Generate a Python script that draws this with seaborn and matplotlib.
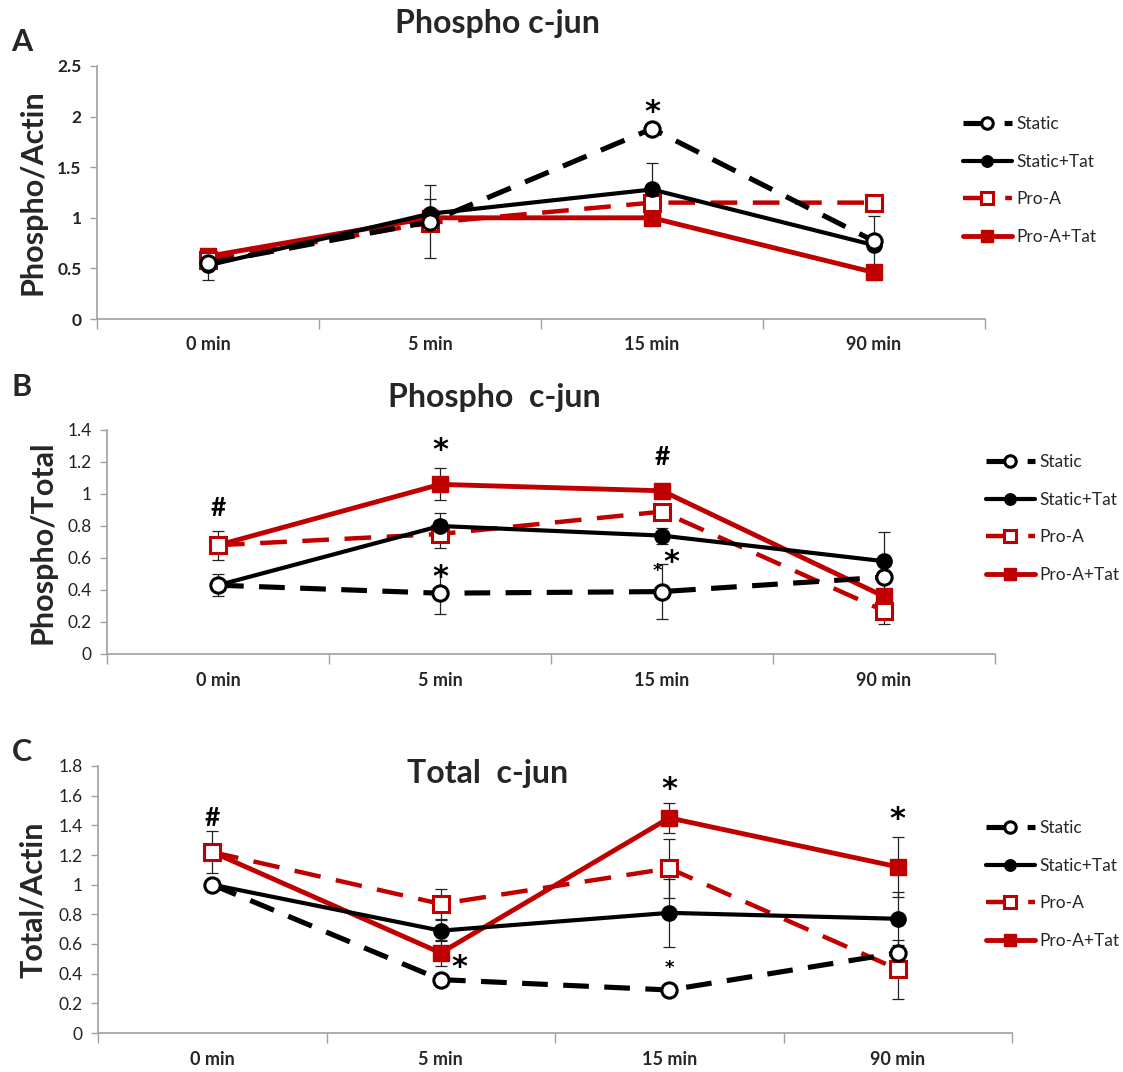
"""Phospho / total c-jun time course, three stacked panels"""
import numpy as np
import pandas as pd
import seaborn as sns
from matplotlib import pyplot as plt

sns.set_theme(style="white")
plt.rcParams["font.family"] = ["Lato", "DejaVu Sans"]

times = ["0 min", "5 min", "15 min", "90 min"]
groups = ["Static", "Static+Tat", "Pro-A", "Pro-A+Tat"]

# panel A: Phospho/Actin
a_static = [0.55, 0.96, 1.88, 0.77]
a_static_tat = [0.53, 1.04, 1.28, 0.73]
a_proa = [0.58, 0.95, 1.15, 1.15]
a_proa_tat = [0.62, 1.00, 1.00, 0.46]
a_err_static = [np.nan, 0.36, np.nan, 0.25]
a_err_static_tat = [0.14, 0.15, 0.26, np.nan]
a_err_proa = [np.nan, np.nan, np.nan, np.nan]
a_err_proa_tat = [np.nan, np.nan, np.nan, np.nan]

# panel B: Phospho/Total
b_static = [0.43, 0.38, 0.39, 0.48]
b_static_tat = [0.43, 0.80, 0.74, 0.58]
b_proa = [0.68, 0.75, 0.89, 0.27]
b_proa_tat = [0.68, 1.06, 1.02, 0.36]
b_err_static = [np.nan, 0.13, 0.17, np.nan]
b_err_static_tat = [0.07, 0.08, 0.05, 0.18]
b_err_proa = [np.nan, 0.09, np.nan, 0.08]
b_err_proa_tat = [0.09, 0.10, np.nan, np.nan]

# panel C: Total/Actin
c_static = [1.00, 0.36, 0.29, 0.54]
c_static_tat = [1.00, 0.69, 0.81, 0.77]
c_proa = [1.22, 0.87, 1.11, 0.43]
c_proa_tat = [1.22, 0.54, 1.45, 1.12]
c_err_static = [np.nan, np.nan, np.nan, np.nan]
c_err_static_tat = [np.nan, 0.07, 0.23, 0.18]
c_err_proa = [np.nan, 0.10, 0.20, 0.20]
c_err_proa_tat = [0.14, 0.09, 0.10, 0.20]

RED = "#C00000"
STYLES = {
    "Static": dict(color="black", linestyle=(0, (5, 3)), lw=3.7, marker="o",
                   mfc="white", mec="black", ms=11, mew=2.2),
    "Static+Tat": dict(color="black", linestyle="-", lw=3, marker="o",
                       mfc="black", mec="black", ms=11, mew=1),
    "Pro-A": dict(color=RED, linestyle=(0, (6, 3.5)), lw=3.2, marker="s",
                  mfc="white", mec=RED, ms=11, mew=2.2),
    "Pro-A+Tat": dict(color=RED, linestyle="-", lw=3.5, marker="s",
                      mfc=RED, mec=RED, ms=12, mew=1),
}
DRAW_ORDER = ["Pro-A+Tat", "Pro-A", "Static+Tat", "Static"]


def make_df(series, errors):
    rows = []
    for g in groups:
        for i, t in enumerate(times):
            rows.append({"time": t, "pos": i, "group": g,
                         "value": series[g][i], "err": errors[g][i]})
    return pd.DataFrame(rows)


panels = [
    dict(
        df=make_df(
            {"Static": a_static, "Static+Tat": a_static_tat,
             "Pro-A": a_proa, "Pro-A+Tat": a_proa_tat},
            {"Static": a_err_static, "Static+Tat": a_err_static_tat,
             "Pro-A": a_err_proa, "Pro-A+Tat": a_err_proa_tat}),
        rect=[97 / 1123, 1 - 319 / 1072, 888 / 1123, 253 / 1072],
        ylim=2.5, yticks=[0, 0.5, 1, 1.5, 2, 2.5], ylabel="Phospho/Actin",
        ytick_bold=True, xpad=12,
        title="Phospho c-jun", title_xy=(497, 24), letter="A", letter_xy=(22, 42),
        legend_xy=(963, 116),
        notes=[("*", 2, 2.04, 22)],
    ),
    dict(
        df=make_df(
            {"Static": b_static, "Static+Tat": b_static_tat,
             "Pro-A": b_proa, "Pro-A+Tat": b_proa_tat},
            {"Static": b_err_static, "Static+Tat": b_err_static_tat,
             "Pro-A": b_err_proa, "Pro-A+Tat": b_err_proa_tat}),
        rect=[107 / 1123, 1 - 654 / 1072, 888 / 1123, 224 / 1072],
        ylim=1.4, yticks=[0, 0.2, 0.4, 0.6, 0.8, 1, 1.2, 1.4], ylabel="Phospho/Total",
        ytick_bold=False, xpad=13,
        title="Phospho  c-jun", title_xy=(494, 398), letter="B", letter_xy=(22, 387),
        legend_xy=(986, 454),
        notes=[("#", 0, 0.91, 19), ("*", 1, 1.27, 22), ("*", 1, 0.48, 22),
               ("#", 2, 1.23, 19), ("*", 2.04, 0.57, 22), ("*", 1.98, 0.52, 13)],
    ),
    dict(
        df=make_df(
            {"Static": c_static, "Static+Tat": c_static_tat,
             "Pro-A": c_proa, "Pro-A+Tat": c_proa_tat},
            {"Static": c_err_static, "Static+Tat": c_err_static_tat,
             "Pro-A": c_err_proa, "Pro-A+Tat": c_err_proa_tat}),
        rect=[98 / 1123, 1 - 1033 / 1072, 914 / 1123, 267 / 1072],
        ylim=1.8, yticks=[0, 0.2, 0.4, 0.6, 0.8, 1, 1.2, 1.4, 1.6, 1.8],
        ylabel="Total/Actin", ytick_bold=False, xpad=13,
        title="Total  c-jun", title_xy=(488, 774), letter="C", letter_xy=(22, 752),
        legend_xy=(986, 820),
        notes=[("#", 0, 1.45, 19), ("*", 1.08, 0.44, 22), ("*", 2, 1.64, 22),
               ("*", 2, 0.44, 13), ("*", 3, 1.44, 22)],
    ),
]

fig = plt.figure(figsize=(11.23, 10.72), dpi=100)
W, H = 1123, 1072

for p in panels:
    ax = fig.add_axes(p["rect"])
    df = p["df"]
    handles = {}
    for g in DRAW_ORDER:
        d = df[df["group"] == g]
        st = STYLES[g]
        sns.lineplot(data=d, x="pos", y="value", ax=ax, label=g, sort=False,
                     color=st["color"], linestyle=st["linestyle"], lw=st["lw"],
                     marker=st["marker"], markerfacecolor=st["mfc"],
                     markeredgecolor=st["mec"], markersize=st["ms"],
                     markeredgewidth=st["mew"], dash_capstyle="butt")
        handles[g] = ax.get_lines()[-1]
        e = d.dropna(subset=["err"])
        ax.errorbar(e["pos"], e["value"], yerr=e["err"], fmt="none",
                    ecolor="#222222", elinewidth=0.9, capsize=4, capthick=0.9,
                    zorder=1.5)
    if ax.get_legend() is not None:
        ax.get_legend().remove()

    ax.set_xlim(-0.5, 3.5)
    ax.set_ylim(0, p["ylim"])
    ax.set_yticks(p["yticks"])
    ax.set_yticklabels([f"{v:g}" for v in p["yticks"]], fontsize=12.5,
                       fontweight="bold" if p["ytick_bold"] else "normal",
                       color="#222222")
    ax.set_xticks(range(len(times)))
    ax.set_xticklabels(times, fontsize=13, fontweight="bold")
    ax.set_xticks([-0.5, 0.5, 1.5, 2.5, 3.5], minor=True)
    ax.tick_params(axis="x", which="major", length=0, pad=p["xpad"])
    ax.tick_params(axis="x", which="minor", length=7, width=1, color="#a0a0a0",
                   direction="out", bottom=True)
    ax.tick_params(axis="y", length=5, width=1, color="#a0a0a0", direction="out",
                   left=True, pad=6)
    for s in ["top", "right"]:
        ax.spines[s].set_visible(False)
    for s in ["left", "bottom"]:
        ax.spines[s].set_color("#a0a0a0")
        ax.spines[s].set_linewidth(1.2)
    ax.set_xlabel(None)
    ax.set_ylabel(p["ylabel"], fontsize=22, fontweight="bold", labelpad=8)
    ax.set_facecolor("none")

    for txt, x, y, size in p["notes"]:
        ax.text(x, y, txt, ha="center", va="center", fontsize=size,
                fontweight="bold", color="black",
                family=["DejaVu Sans"] if txt == "*" else ["Lato"])

    fig.text(p["title_xy"][0] / W, 1 - p["title_xy"][1] / H, p["title"],
             ha="center", va="center", fontsize=23, fontweight="bold")
    fig.text(p["letter_xy"][0] / W, 1 - p["letter_xy"][1] / H, p["letter"],
             ha="center", va="center", fontsize=22, fontweight="bold")

    ax.legend([handles[g] for g in groups], groups, loc="upper left",
              bbox_to_anchor=(p["legend_xy"][0] / W, 1 - p["legend_xy"][1] / H),
              bbox_transform=fig.transFigure, frameon=False, fontsize=12.5,
              handlelength=2.8, handletextpad=0.3, labelspacing=1.25,
              borderpad=0, borderaxespad=0, markerscale=0.75)

fig.savefig("out.png", dpi=100)
